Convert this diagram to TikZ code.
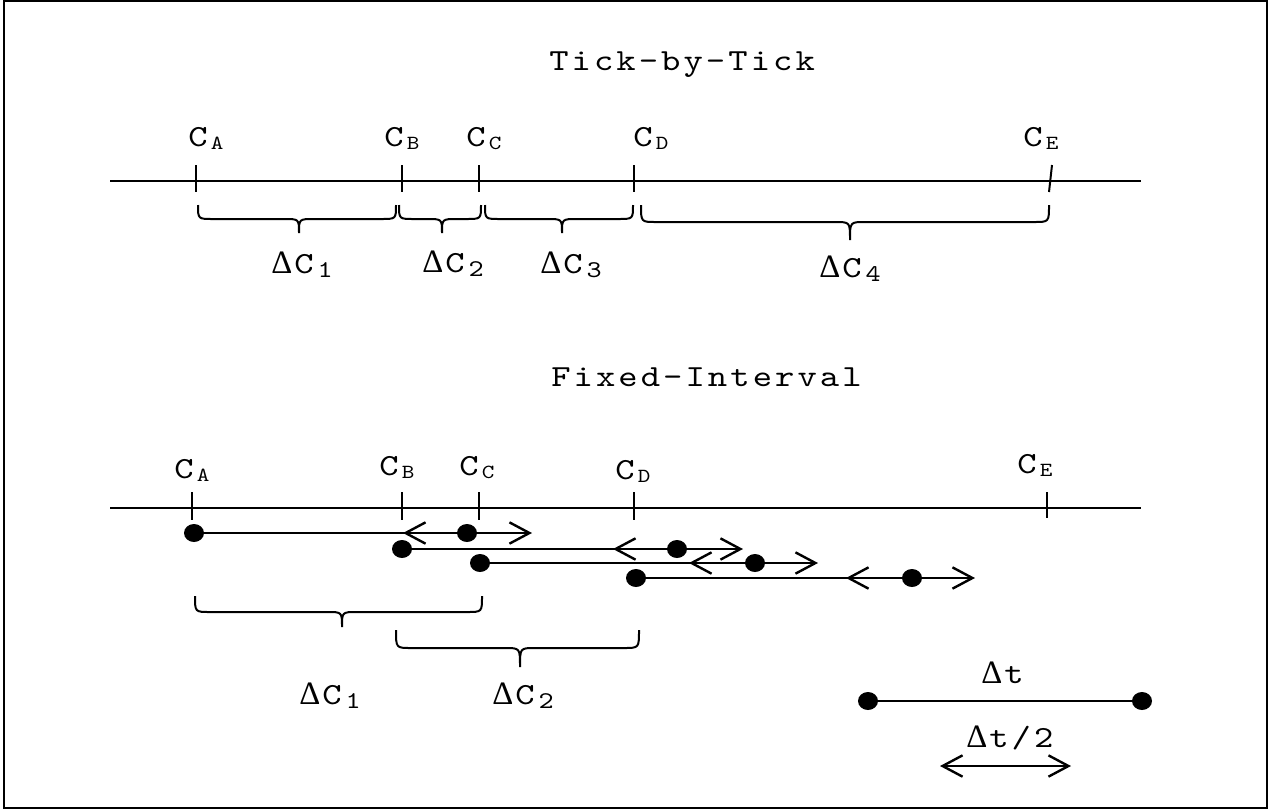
\documentclass[tikz,border=0pt]{standalone}
\usepackage{fontspec}
\setmainfont{Liberation Serif}
\newfontfamily\serifF{Liberation Serif}
\newfontfamily\monoF[FakeStretch=1.2]{lmmono10-regular.otf}
\newfontfamily\monoS[FakeStretch=1.2,LetterSpace=10]{lmmono10-regular.otf}
\usetikzlibrary{arrows.meta,shapes.geometric}
\newcommand\bigmono{\monoF\fontsize{23pt}{27pt}\selectfont}
\newcommand\spmono{\monoS\fontsize{23pt}{27pt}\selectfont}
\newcommand\subL{\monoF\fontsize{15pt}{17pt}\selectfont}
\newcommand\subD{\monoF\fontsize{18pt}{20pt}\selectfont}
\newcommand\dlt{{\serifF\fontsize{24.5pt}{28pt}\selectfont Δ}}
\newcommand\CL[1]{{\bigmono C\kern2.5pt\raisebox{-2.5pt}{\subL #1}}}
\newcommand\DC[1]{{\dlt\kern1.5pt\bigmono C\kern3pt\raisebox{-3pt}{\subD #1}}}
\newcommand\mybrace[6]{% x1 x2 xm ytop yflat ytip
  \draw[brc] (#1,#4) .. controls (#1,#5) .. (#1+15,#5) -- (#3-15,#5)
    .. controls (#3,#5) .. (#3,#6) .. controls (#3,#5) .. (#3+15,#5)
    -- (#2-15,#5) .. controls (#2,#5) .. (#2,#4);}
\begin{document}
\begin{tikzpicture}[x=0.75pt,y=-0.75pt,
  axis/.style={line width=1.5pt},
  tk/.style={line width=1.5pt},
  brc/.style={line width=1.5pt},
  bar/.style={line width=1.8pt},
  dot/.style={ellipse,fill=black,inner sep=0pt,minimum width=15pt,minimum height=13.5pt},
  lbl/.style={inner sep=0pt,anchor=base west},
  tip/.style={-{Straight Barb[length=15pt,width=16pt]}},
  tips/.style={{Straight Barb[length=15pt,width=16pt]}-{Straight Barb[length=15pt,width=16pt]}}]
\useasboundingbox (0,0) rectangle (1269,810);
\draw[line width=1.6pt] (3.8,1) rectangle (1267,808);

% titles
\node[lbl] (t1) at (549,70) {\spmono Tick-by-Tick};
\node[lbl] (t2) at (551,386) {\spmono Fixed-Interval};

% top timeline
\coordinate (L1) at (110,181);
\coordinate (R1) at (1141,181);
\draw[axis] (L1) -- (R1);
\draw[tk] (196,165) -- (196,192);
\draw[tk] (402,165) -- (402,192);
\draw[tk] (479,165) -- (479,192);
\draw[tk] (634,165) -- (634,192);
\draw[tk] (1052,165) -- (1049,192);
\node[lbl] (a1) at (188,146) {\CL{A}};
\node[lbl] (b1) at (384,146) {\CL{B}};
\node[lbl] (c1) at (466,146) {\CL{C}};
\node[lbl] (d1) at (633,146) {\CL{D}};
\node[lbl] (e1) at (1023,146) {\CL{E}};

\mybrace{198}{396}{299}{205}{219}{233}
\mybrace{399}{481}{442}{205}{219}{233}
\mybrace{485}{633}{562}{205}{219}{233}
\mybrace{641}{1049}{850}{205}{222}{240}
\node[lbl] (dc1) at (271,273) {\DC{1}};
\node[lbl] (dc2) at (422,272) {\DC{2}};
\node[lbl] (dc3) at (540,273) {\DC{3}};
\node[lbl] (dc4) at (819,277) {\DC{4}};

% bottom timeline
\coordinate (L2) at (110,508);
\coordinate (R2) at (1141,508);
\draw[axis] (L2) -- (R2);
\draw[tk] (192,492) -- (192,520);
\draw[tk] (402,492) -- (402,520);
\draw[tk] (479,492) -- (479,520);
\draw[tk] (634,492) -- (634,520);
\draw[tk] (1047,492) -- (1047,518);
\node[lbl] (a2) at (174,478) {\CL{A}};
\node[lbl] (b2) at (379,475) {\CL{B}};
\node[lbl] (c2) at (459,475) {\CL{C}};
\node[lbl] (d2) at (615,479) {\CL{D}};
\node[lbl] (e2) at (1017,473) {\CL{E}};

% rows
\node[dot] (s1) at (194,533) {};
\node[dot] (m1) at (467,533) {};
\coordinate (l1) at (403,533); \coordinate (r1) at (532,533);
\node[dot] (s2) at (402,549) {};
\node[dot] (m2) at (677,549) {};
\coordinate (l2) at (613,549); \coordinate (r2) at (743,549);
\node[dot] (s3) at (480,563) {};
\node[dot] (m3) at (755,563) {};
\coordinate (l3) at (689,563); \coordinate (r3) at (818,563);
\node[dot] (s4) at (636,578) {};
\node[dot] (m4) at (912,578) {};
\coordinate (l4) at (846,578); \coordinate (r4) at (975,578);
\foreach \i in {1,2,3,4}{
  \draw[bar] (s\i.center) -- (m\i.center);
  \draw[bar,tip] (m\i.center) -- (r\i);
  \draw[bar,tip] (m\i.center) -- (l\i);
}

\mybrace{195}{482}{342}{596}{612}{627}
\mybrace{396}{639}{520}{630}{648}{667}
\node[lbl] (dc5) at (299,704) {\DC{1}};
\node[lbl] (dc6) at (492,704) {\DC{2}};

% legend
\node[dot] (p1) at (868,701) {};
\node[dot] (p2) at (1142,701) {};
\draw[bar] (p1.center) -- (p2.center);
\node[lbl] (dt) at (981,683) {\dlt\kern1.5pt\spmono t};
\coordinate (h1) at (940,766);
\coordinate (h2) at (1071,766);
\draw[bar,tips] (h1) -- (h2);
\node[lbl] (dt2) at (966,747) {\dlt\kern1.5pt\spmono t/2};
\end{tikzpicture}
\end{document}
